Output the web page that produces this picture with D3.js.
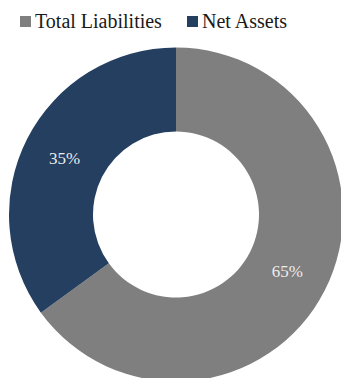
<!DOCTYPE html>
<html>
<head>
<meta charset="utf-8">
<script src="https://cdn.jsdelivr.net/npm/d3@7"></script>
<style>
  body { margin: 0; background: #fff; font-family: 'Liberation Serif', serif; }
</style>
</head>
<body>
<div class="chart"></div>
<script>
const categories = ['Total Liabilities', 'Net Assets'];
const values = [65, 35];
const labels = ['65%', '35%'];
const colors = ['#7f7f7f', '#243f60'];

const width = 341, height = 378;
const cx = 176, cy = 214.5;
const outerR = 167, innerR = 83;

const svg = d3.select('.chart')
    .append('svg')
    .attr('width', width)
    .attr('height', height)
    .attr('font-family', 'Liberation Serif');

const color = d3.scaleOrdinal().domain(categories).range(colors);

const pie = d3.pie().sort(null).value(d => d.value);
const data = categories.map((c, i) => ({cat: c, value: values[i], label: labels[i]}));

const arc = d3.arc().innerRadius(innerR).outerRadius(outerR);
const labelArc = d3.arc().innerRadius(125).outerRadius(125);

// legend first
const legendX = [20, 187];
const key = svg.selectAll('.key')
    .data(categories)
    .enter()
    .append('g')
    .attr('class', 'key')
    .attr('transform', (d, i) => 'translate(' + legendX[i] + ',0)');

key.append('rect')
    .attr('x', 0)
    .attr('y', 16)
    .attr('width', 11)
    .attr('height', 11)
    .style('fill', color);

key.append('text')
    .attr('x', 15)
    .attr('y', 28)
    .attr('font-family', 'Liberation Serif')
    .attr('font-size', 20)
    .attr('fill', '#1a1a1a')
    .text(d => d);

const g = svg.append('g')
    .attr('transform', 'translate(' + cx + ',' + cy + ')');

const arcs = pie(data);

g.selectAll('path')
    .data(arcs)
    .enter()
    .append('path')
    .attr('d', arc)
    .style('fill', d => color(d.data.cat));

g.selectAll('text')
    .data(arcs)
    .enter()
    .append('text')
    .attr('transform', d => 'translate(' + labelArc.centroid(d) + ')')
    .attr('text-anchor', 'middle')
    .attr('y', 6)
    .attr('font-family', 'Liberation Serif')
    .attr('font-size', 17)
    .attr('fill', '#ececec')
    .text(d => d.data.label);
</script>
</body>
</html>
